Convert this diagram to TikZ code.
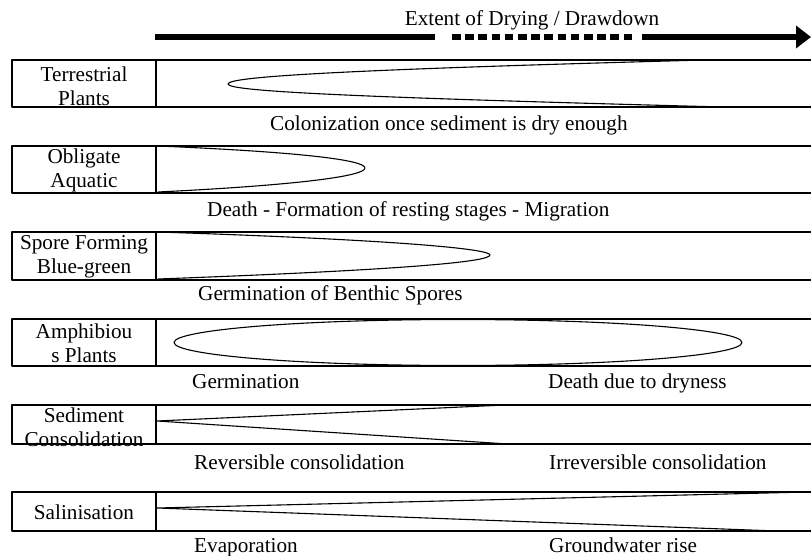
\documentclass[tikz,border=0pt]{standalone}
\usepackage{fontspec}
\setmainfont{Liberation Serif}
\usetikzlibrary{arrows.meta}

\begin{document}
\begin{tikzpicture}[x=1pt,y=-1pt,line join=round,font=\fontsize{21.2}{24}\selectfont,
  rowbox/.style={line width=1.1pt},
  band/.style={line width=1.1pt},
  rowlabel/.style={align=center,inner sep=0pt},
  caption/.style={anchor=base west,inner sep=0pt},
  drybar/.style={line width=6pt}]
  \useasboundingbox (0,0) rectangle (811,556);
  \node[anchor=base,inner sep=0pt] (drytitle) at (532,26) {Extent of Drying / Drawdown};
  \coordinate (barA) at (155,37);
  \coordinate (barB) at (435,37);
  \coordinate (dotA) at (452,37);
  \coordinate (dotB) at (634,37);
  \coordinate (barC) at (642,37);
  \coordinate (barD) at (811,37);
  \draw[drybar] (barA) -- (barB);
  \draw[drybar,dash pattern=on 8.5pt off 4.7pt] (dotA) -- (dotB);
  \draw[drybar,-{Triangle[length=15pt,width=22pt]}] (barC) -- (barD);

  \draw[rowbox] (811,60) -- (12,60) -- (12,107) -- (811,107) (156,60) -- (156,107);
  \draw[rowbox] (811,146) -- (12,146) -- (12,193) -- (811,193) (156,146) -- (156,193);
  \draw[rowbox] (811,232) -- (12,232) -- (12,280) -- (811,280) (156,232) -- (156,280);
  \draw[rowbox] (811,319) -- (12,319) -- (12,366) -- (811,366) (156,319) -- (156,366);
  \draw[rowbox] (811,405) -- (12,405) -- (12,444) -- (811,444) (156,405) -- (156,444);
  \draw[rowbox] (811,492) -- (12,492) -- (12,531) -- (811,531) (156,492) -- (156,531);

  \node[rowlabel] (terrestrial) at (84,86) {Terrestrial\\Plants};
  \node[rowlabel] (obligate) at (84,170) {Obligate\\Aquatic};
  \node[rowlabel] (spore) at (84,257) {Spore Forming\\Blue-green};
  \node[rowlabel] (amphibious) at (84,343) {Amphibiou\\s Plants};
  \node[rowlabel] (sediment) at (84,427) {Sediment\\Consolidation};
  \node[rowlabel,anchor=base] (salinisation) at (84,519) {Salinisation};

  \draw[band] (705,60) .. controls (330,70) and (228,77) .. (228,84) .. controls (228,91) and (340,97) .. (723,107);
  \draw[band] (158,146) .. controls (300,152) and (365,160) .. (365,168) .. controls (365,176) and (300,185) .. (158,192);
  \draw[band] (158,232) .. controls (400,240) and (490,249) .. (490,255) .. controls (490,262) and (400,270) .. (158,279);
  \draw[band] (458,342.5) ellipse [x radius=284,y radius=23];
  \draw[band] (505,405) -- (157,421) -- (508,444);
  \draw[band] (807,492) -- (157,508) -- (777,531);

  \node[caption] (colonize) at (270,131) {Colonization once sediment is dry enough};
  \node[caption] (death) at (207,216) {Death - Formation of resting stages - Migration};
  \node[caption] (benthic) at (198,300) {Germination of Benthic Spores};
  \node[caption] (germ) at (192,388) {Germination};
  \node[caption] (dryness) at (548,388) {Death due to dryness};
  \node[caption] (reversible) at (194,469) {Reversible consolidation};
  \node[caption] (irreversible) at (549,469) {Irreversible consolidation};
  \node[caption] (evaporation) at (194,552) {Evaporation};
  \node[caption] (groundwater) at (549,552) {Groundwater rise};
\end{tikzpicture}
\end{document}
